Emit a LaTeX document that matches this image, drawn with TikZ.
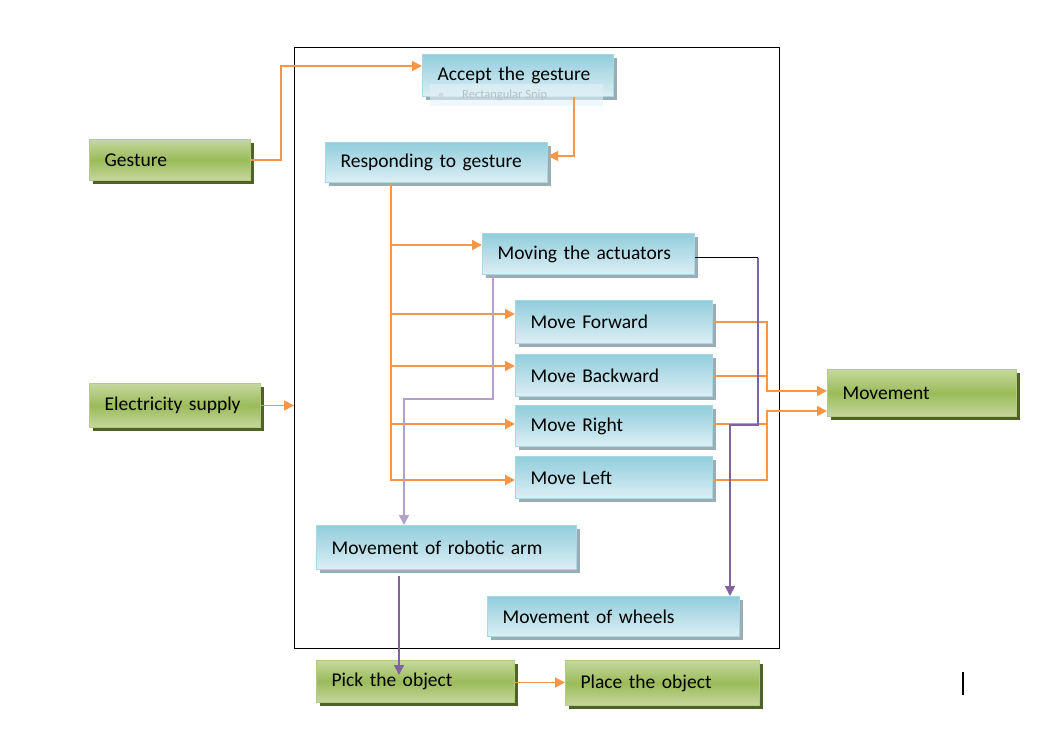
\documentclass[tikz,border=0pt]{standalone}
\usepackage{fontspec}
\setmainfont{Carlito}
\usetikzlibrary{arrows.meta,shadows,calc}
\definecolor{orng}{HTML}{F79646}
\definecolor{purD}{HTML}{8064A2}
\definecolor{purL}{HTML}{B3A2C7}
\definecolor{bTop}{HTML}{92CDDC}
\definecolor{bBot}{HTML}{DDEFF5}
\definecolor{bLine}{HTML}{A9D7E4}
\definecolor{bShad}{HTML}{9AADB5}
\definecolor{gMid}{HTML}{9BBB59}
\definecolor{gTop}{HTML}{C5D89F}
\definecolor{gLine}{HTML}{B3CB84}
\definecolor{gShad}{HTML}{4F6228}
\definecolor{ghostTxt}{HTML}{B4C0C6}
\definecolor{ghostFill}{HTML}{E2F1F6}
\newcommand\boxfont{\fontsize{19.5}{23}\selectfont}
\newcommand\ghostfont{\fontsize{12.5}{14}\selectfont}
\begin{document}
\begin{tikzpicture}[x=1pt,y=-1pt,
  bluebox/.style={draw=bLine, line width=1.2pt, top color=bTop, bottom color=bBot,
    anchor=north west, inner xsep=15pt, inner ysep=0pt, align=left, font=\boxfont,
    drop shadow={shadow xshift=3pt, shadow yshift=-3pt, fill=bShad, opacity=1}},
  greenbox/.style={draw=gLine, line width=1.2pt, top color=gTop, bottom color=gTop, middle color=gMid,
    anchor=north west, inner xsep=15pt, inner ysep=0pt, align=left, font=\boxfont,
    drop shadow={shadow xshift=3pt, shadow yshift=-3pt, fill=gShad, opacity=1}},
  oline/.style={draw=orng, line width=1.8pt},
  oarr/.style={oline, -{Triangle[length=10pt,width=10pt]}},
  parrD/.style={draw=purD, line width=1.8pt, -{Triangle[length=10pt,width=10pt]}},
  parrL/.style={draw=purL, line width=1.8pt, -{Triangle[length=10pt,width=10pt]}},
  frame/.style={draw=black, line width=1.1pt, anchor=north west, inner sep=0pt}
]
\useasboundingbox (0,0) rectangle (1050,735);

% outer frame
\node[frame, minimum width=485pt, minimum height=601pt] (frm) at (294,47) {};

% blue boxes
\node[bluebox, text width=161pt, minimum height=42pt] (accept) at (422,54) {Accept the gesture};
% ghost snip label
\node[anchor=north west, fill=ghostFill, fill opacity=0.6, text opacity=1, inner sep=0pt,
      minimum width=173pt, minimum height=22pt] (ghost) at (430,84) {};
\fill[ghostTxt!60] (441,95) circle (2.5pt);
\node[anchor=west, text=ghostTxt, font=\ghostfont, inner sep=0pt] (ghostlbl) at (462,95) {Rectangular Snip};

\node[bluebox, text width=192pt, minimum height=40pt] (respond) at (325,142) {Responding to gesture};
\node[bluebox, text width=182pt, minimum height=41pt] (act) at (482,233) {Moving the actuators};
\node[bluebox, text width=167pt, minimum height=43pt] (fwd) at (515,300) {Move Forward};
\node[bluebox, text width=167pt, minimum height=42pt] (bwd) at (515,354) {Move Backward};
\node[bluebox, text width=167pt, minimum height=41pt] (rgt) at (515,405) {Move Right};
\node[bluebox, text width=167pt, minimum height=42pt] (lft) at (515,456) {Move Left};
\node[bluebox, text width=230pt, minimum height=44pt] (arm) at (316,525) {Movement of robotic arm};
\node[bluebox, text width=222pt, minimum height=40pt] (whl) at (487,596) {Movement of wheels};

% green boxes
\node[greenbox, text width=131pt, minimum height=41pt] (gest) at (89,139) {Gesture};
\node[greenbox, text width=141pt, minimum height=44pt] (elec) at (89,383) {Electricity supply};
\node[greenbox, text width=159pt, minimum height=47pt] (mov) at (827,369) {Movement};
\node[greenbox, text width=168pt, minimum height=42pt] (pick) at (316,660) {Pick the object};
\node[greenbox, text width=164pt, minimum height=45pt] (place) at (565,660) {Place the object};

% orange connectors
\draw[oarr] (gest.east) -- ++(30,0) |- (accept.west |- 0,66);
\draw[oarr] (accept.south -| 574,0) |- (respond.east |- 0,156);
\coordinate (trunk) at (respond.south -| 391,0);
\draw[oarr] (trunk) |- (lft.west |- 0,480);
\draw[oarr] (trunk |- 0,245) -- (act.west |- 0,245);
\draw[oarr] (trunk |- 0,314) -- (fwd.west |- 0,314);
\draw[oarr] (trunk |- 0,366) -- (bwd.west |- 0,366);
\draw[oarr] (trunk |- 0,424) -- (rgt.west |- 0,424);
\draw[oarr] (elec.east |- 0,405.5) -- (frm.west |- 0,405.5);
\draw[oarr] (pick.east |- 0,682.5) -- (place.west |- 0,682.5);

\coordinate (colA) at (767,391);
\coordinate (colB) at (767,411);
\draw[oarr] (fwd.east |- 0,322) -| (colA) -- (mov.west |- colA);
\draw[oline] (bwd.east |- 0,376) -- (colA |- 0,376);
\draw[oarr] (lft.east |- 0,480) -| (colB) -- (mov.west |- colB);
\draw[oline] (rgt.east |- 0,424) -- (colB |- 0,424);

% purple connectors
\draw[parrL] (act.south -| 493,0) |- (404,399) -- (arm.north -| 404,0);
\coordinate (jB) at (758,258);
\draw[black, line width=1pt] (act.east |- jB) -- (jB);
\draw[parrD] (jB) -- (758,425) -| (whl.north -| 730,0);
\draw[parrD] ($(arm.south -| 399,0)+(0,6)$) -- ($(pick.north -| 399,0)+(0,15)$);

% text cursor
\draw[black, line width=1.6pt] (963,672) -- (963,695);
\end{tikzpicture}
\end{document}
